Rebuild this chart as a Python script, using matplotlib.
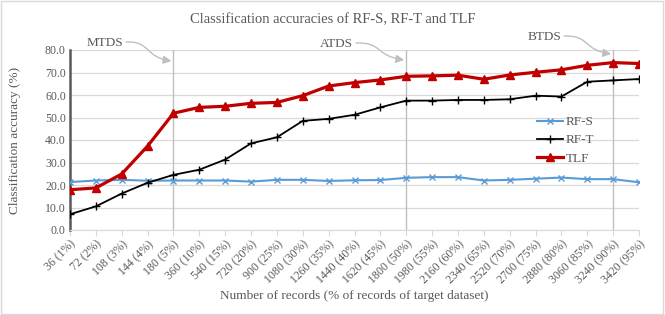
import matplotlib
matplotlib.use("Agg")
import matplotlib.pyplot as plt
from matplotlib.patches import Rectangle, FancyArrowPatch
from matplotlib.path import Path

categories = ["36 (1%)", "72 (2%)", "108 (3%)", "144 (4%)", "180 (5%)", "360 (10%)",
              "540 (15%)", "720 (20%)", "900 (25%)", "1080 (30%)", "1260 (35%)",
              "1440 (40%)", "1620 (45%)", "1800 (50%)", "1980 (55%)", "2160 (60%)",
              "2340 (65%)", "2520 (70%)", "2700 (75%)", "2880 (80%)", "3060 (85%)",
              "3240 (90%)", "3420 (95%)"]
rf_s = [21.3, 22.0, 22.3, 21.9, 22.0, 22.0, 22.0, 21.5, 22.3, 22.3, 21.8, 22.1,
        22.2, 23.2, 23.5, 23.5, 22.0, 22.3, 22.8, 23.3, 22.6, 22.6, 21.2]
rf_t = [7.0, 10.5, 16.2, 21.0, 24.5, 26.8, 31.3, 38.5, 41.2, 48.5, 49.4, 51.2,
        54.5, 57.5, 57.5, 57.8, 57.8, 58.1, 59.7, 59.3, 65.9, 66.5, 67.1]
tlf = [17.9, 18.7, 24.9, 37.3, 51.9, 54.5, 55.0, 56.3, 56.7, 59.7, 64.0, 65.5,
       66.7, 68.3, 68.5, 68.8, 67.0, 68.9, 70.1, 71.2, 73.2, 74.4, 74.0]
markers_idx = [4, 13, 21]
marker_names = ["MTDS", "ATDS", "BTDS"]

plt.rcParams['font.family'] = ['Liberation Serif', 'DejaVu Serif']
TXT = '#595959'
W, H = 665, 315

fig = plt.figure(figsize=(6.65, 3.15), dpi=100)
fig.patches.append(Rectangle((0.002, 0.003), 0.995, 0.993, transform=fig.transFigure,
                             fill=False, edgecolor='#D9D9D9', linewidth=1.0))
ax = fig.add_axes([70/W, 1-230/H, (639-70)/W, (230-50)/H])

x = list(range(len(categories)))
ax.set_xlim(0, len(categories)-1)
ax.set_ylim(0, 80)
ax.set_yticks(range(0, 81, 10))
ax.set_yticklabels([f"{v:.1f}" for v in range(0, 81, 10)], color=TXT, fontsize=8.5)
ax.yaxis.grid(True, color='#D9D9D9', linewidth=0.9)
ax.set_axisbelow(True)

for i in markers_idx:
    ax.axvline(i, color='#BFBFBF', linewidth=1.0, zorder=1)

ax.plot(x, rf_s, color='#5B9BD5', marker='x', markersize=5, linewidth=1.5,
        markeredgewidth=1.0, label='RF-S', zorder=3)
ax.plot(x, rf_t, color='black', marker='+', markersize=6, linewidth=1.3,
        markeredgewidth=1.0, label='RF-T', zorder=4)
ax.plot(x, tlf, color='#C00000', marker='^', markersize=5.5, linewidth=2.3,
        label='TLF', zorder=5)

ax.set_xticks(x)
ax.set_xticklabels(categories, rotation=45, ha='right', rotation_mode='anchor',
                   color=TXT, fontsize=8.5)
ax.tick_params(axis='x', length=4, color='#D9D9D9', pad=2)
ax.tick_params(axis='y', length=0, pad=3)

for s in ['top', 'right']:
    ax.spines[s].set_visible(False)
ax.spines['bottom'].set_color('#D9D9D9')
ax.spines['left'].set_color('#595959')
ax.spines['left'].set_linewidth(1.8)

fig.text(0.5, 1-20/H, "Classification accuracies of RF-S, RF-T and TLF",
         ha='center', va='center', fontsize=10.5, color=TXT)
fig.text(15/W, 1-140/H, "Classification accuracy (%)", rotation=90,
         ha='center', va='center', color=TXT, fontsize=9.5)
fig.text((70+639)/2/W, 1-296/H, "Number of records (% of records of target dataset)",
         ha='center', va='center', fontsize=9.5, color=TXT)

# annotation labels with S-shaped gray arrows
text_pos = [(105, 43), (336, 44), (544, 37)]
start_pos = [(126, 42), (356, 43), (564, 36)]
tip_y = [61, 60, 54]
for i, name, (tx, ty), (sx, sy), yp in zip(markers_idx, marker_names, text_pos,
                                           start_pos, tip_y):
    fig.text(tx/W, 1-ty/H, name, ha='center', va='center', color=TXT, fontsize=9.5)
    # tip location in figure pixels from the data position of the vertical line
    ex_disp, _ = ax.transData.transform((i, 0))
    ex = ex_disp - 2
    ey = yp
    dx = ex - sx
    verts = [(sx, sy), (sx + 0.55*dx, sy - 1), (ex - 0.6*dx, ey - 4), (ex, ey)]
    verts = [(vx/W, 1-vy/H) for vx, vy in verts]
    path = Path(verts, [Path.MOVETO, Path.CURVE4, Path.CURVE4, Path.CURVE4])
    arr = FancyArrowPatch(path=path, arrowstyle='-|>', color='#BFBFBF', lw=1.0,
                          mutation_scale=12, transform=fig.transFigure)
    fig.patches.append(arr)

leg = ax.legend(loc='upper left', frameon=False, fontsize=9.5,
                handlelength=2.0, handletextpad=0.15, labelspacing=0.45,
                borderaxespad=0, borderpad=0)
for t in leg.get_texts():
    t.set_color(TXT)
leg.set_bbox_to_anchor(((537-70)/569, 1 - (116-50)/180), transform=ax.transAxes)

fig.savefig("out.png", dpi=100)
